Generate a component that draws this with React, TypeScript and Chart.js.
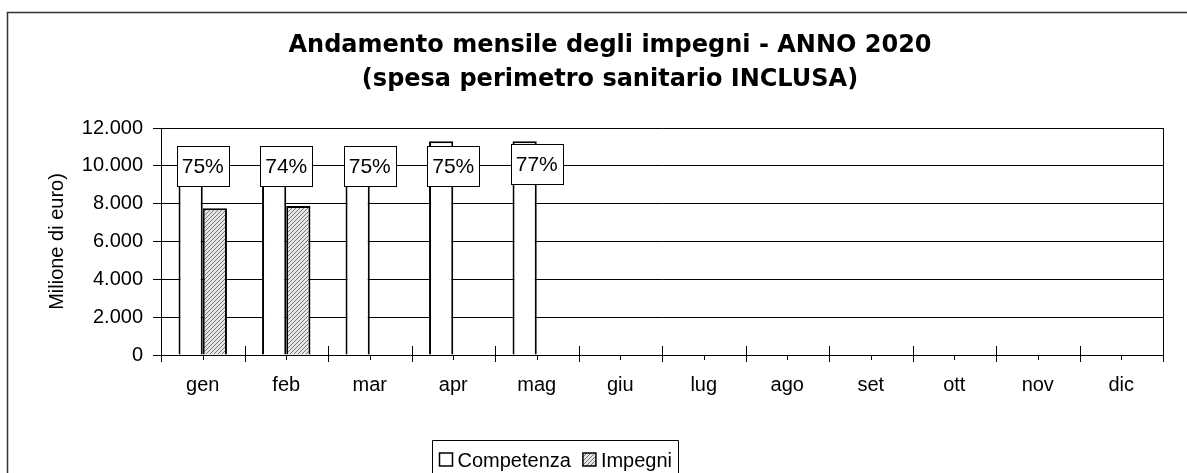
import React, { useEffect, useRef } from "react";
import { Chart, registerables } from "chart.js";
Chart.register(...registerables);

const months = ["gen", "feb", "mar", "apr", "mag", "giu", "lug", "ago", "set", "ott", "nov", "dic"];
const competenza = [10350, 10600, 10700, 11300, 11300, null, null, null, null, null, null, null];
const impegni = [7760, 7880, null, null, null, null, null, null, null, null, null, null];
const percentLevels = [10000, 10000, 10000, 10000, 10100, null, null, null, null, null, null, null];
const percentLabels = ["75%", "74%", "75%", "75%", "77%", null, null, null, null, null, null, null];
const yMin = 0;
const yMax = 12000;
const yStep = 2000;
const titleLines = ["Andamento mensile degli impegni - ANNO 2020", "(spesa perimetro sanitario INCLUSA)"];
const yTitle = "Milione di euro)";
const seriesNames = ["Competenza", "Impegni"];

const FONT = "'Liberation Sans', Arial, sans-serif";
const TITLE_FONT = "'DejaVu Sans', Verdana, sans-serif";

function fmt(v: number) {
  return String(v).replace(/\B(?=(\d{3})+(?!\d))/g, ".");
}

function makeHatch(): CanvasPattern | string {
  const c = document.createElement("canvas");
  c.width = 4;
  c.height = 4;
  const g = c.getContext("2d");
  if (!g) return "#bbb";
  g.fillStyle = "#e6e6e6";
  g.fillRect(0, 0, 4, 4);
  g.strokeStyle = "#777";
  g.lineWidth = 1;
  g.beginPath();
  g.moveTo(-1, 5);
  g.lineTo(5, -1);
  g.moveTo(-1, 1);
  g.lineTo(1, -1);
  g.moveTo(3, 5);
  g.lineTo(5, 3);
  g.stroke();
  const p = g.createPattern(c, "repeat");
  return p || "#bbb";
}

export default function App() {
  const ref = useRef<HTMLCanvasElement | null>(null);
  useEffect(() => {
    document.body.style.margin = "0";
    const canvas = ref.current;
    if (!canvas) return;
    const hatch = makeHatch();

    const decor = {
      id: "decor",
      beforeDraw(chart: any) {
        const ctx = chart.ctx;
        ctx.save();
        ctx.fillStyle = "#fff";
        ctx.fillRect(0, 0, chart.width, chart.height);
        ctx.strokeStyle = "#333";
        ctx.lineWidth = 1.5;
        ctx.strokeRect(7.5, 12.5, chart.width + 40, chart.height + 40);
        ctx.restore();
      },
      afterDatasetsDraw(chart: any) {
        const ctx = chart.ctx;
        const area = chart.chartArea;
        const xs = chart.scales.x;
        ctx.save();
        ctx.strokeStyle = "#000";
        ctx.lineWidth = 1;
        ctx.beginPath();
        ctx.moveTo(Math.round(area.right) + 0.5, area.top);
        ctx.lineTo(Math.round(area.right) + 0.5, area.bottom);
        ctx.stroke();
        const n = months.length;
        const cw = (xs.right - xs.left) / n;
        ctx.beginPath();
        for (let i = 0; i <= n; i++) {
          const x = Math.round(xs.left + i * cw) + 0.5;
          ctx.moveTo(x, area.bottom - (i === 0 ? 0 : 9));
          ctx.lineTo(x, area.bottom + 7);
        }
        for (let i = 0; i < n; i++) {
          const x = Math.round(xs.getPixelForValue(i)) + 0.5;
          ctx.moveTo(x, area.bottom);
          ctx.lineTo(x, area.bottom + 5);
        }
        ctx.stroke();
        const meta = chart.getDatasetMeta(2);
        ctx.font = `21px ${FONT}`;
        ctx.textAlign = "center";
        ctx.textBaseline = "middle";
        meta.data.forEach((pt: any, i: number) => {
          const label = percentLabels[i];
          if (!label || percentLevels[i] == null) return;
          const w = 52;
          const h = 40;
          const bx = Math.round(pt.x - w / 2) + 0.5;
          const by = Math.round(pt.y - h / 2) + 0.5;
          ctx.fillStyle = "#fff";
          ctx.fillRect(bx, by, w, h);
          ctx.strokeStyle = "#000";
          ctx.lineWidth = 1;
          ctx.strokeRect(bx, by, w, h);
          ctx.fillStyle = "#000";
          ctx.fillText(label, pt.x, pt.y + 1);
        });
        ctx.restore();
      },
      afterDraw(chart: any) {
        const ctx = chart.ctx;
        ctx.save();
        ctx.fillStyle = "#000";
        ctx.font = `bold 24px ${TITLE_FONT}`;
        ctx.textAlign = "center";
        ctx.textBaseline = "middle";
        ctx.fillText(titleLines[0], 610, 46);
        ctx.fillText(titleLines[1], 610, 80);
        ctx.font = `20px ${FONT}`;
        ctx.textAlign = "left";
        const lx = 432.5;
        const ly = 440.5;
        const fills = [chart.data.datasets[0].backgroundColor, chart.data.datasets[1].backgroundColor];
        let x = lx + 7;
        const cy = 460;
        seriesNames.forEach((name, i) => {
          ctx.fillStyle = fills[i];
          ctx.fillRect(x, cy - 7, 13, 13);
          ctx.strokeStyle = "#000";
          ctx.lineWidth = 1.5;
          ctx.strokeRect(x, cy - 7, 13, 13);
          ctx.fillStyle = "#000";
          ctx.fillText(name, x + 18, cy + 1);
          x += 18 + ctx.measureText(name).width + 12;
        });
        const rx = x - 6;
        ctx.strokeStyle = "#000";
        ctx.lineWidth = 1;
        ctx.beginPath();
        ctx.moveTo(lx, chart.height + 5);
        ctx.lineTo(lx, ly);
        ctx.lineTo(Math.round(rx) + 0.5, ly);
        ctx.lineTo(Math.round(rx) + 0.5, chart.height + 5);
        ctx.stroke();
        ctx.restore();
      },
    };

    const chart = new Chart(canvas, {
      type: "bar",
      data: {
        labels: months,
        datasets: [
          {
            label: seriesNames[0],
            data: competenza,
            backgroundColor: "#ffffff",
            borderColor: "#000",
            borderWidth: 2,
            barPercentage: 1,
            categoryPercentage: 0.58,
          },
          {
            label: seriesNames[1],
            data: impegni,
            backgroundColor: hatch as any,
            borderColor: "#000",
            borderWidth: 2,
            barPercentage: 1,
            categoryPercentage: 0.58,
          },
          {
            type: "line",
            label: "perc",
            data: percentLevels,
            showLine: false,
            pointRadius: 0,
            pointHoverRadius: 0,
          } as any,
        ],
      },
      options: {
        responsive: false,
        animation: false,
        events: [],
        layout: { padding: { left: 0, right: 24, top: 128, bottom: 0 } },
        plugins: {
          legend: { display: false },
          title: { display: false },
          tooltip: { enabled: false },
        },
        scales: {
          x: {
            offset: true,
            grid: { display: false, drawTicks: false },
            border: { display: false },
            ticks: { color: "#000", font: { family: FONT, size: 20 }, padding: 18 },
            afterFit: (s: any) => {
              s.height = 118;
            },
          },
          y: {
            min: yMin,
            max: yMax,
            ticks: {
              stepSize: yStep,
              color: "#000",
              font: { family: FONT, size: 20 },
              padding: 10,
              callback: (v: any) => fmt(Number(v)),
            },
            grid: { color: "#000", lineWidth: 1, tickLength: 8, drawTicks: true },
            border: { display: true, color: "#000", width: 1 },
            title: {
              display: true,
              text: yTitle,
              color: "#000",
              font: { family: FONT, size: 20 },
              padding: { top: 45, bottom: 0 },
            },
            afterFit: (s: any) => {
              s.width = 161;
            },
          },
        },
      },
      plugins: [decor],
    } as any);
    return () => chart.destroy();
  }, []);
  return (
    <div style={{ width: 1187, height: 473 }}>
      <canvas ref={ref} width={1187} height={473} style={{ display: "block" }} />
    </div>
  );
}
